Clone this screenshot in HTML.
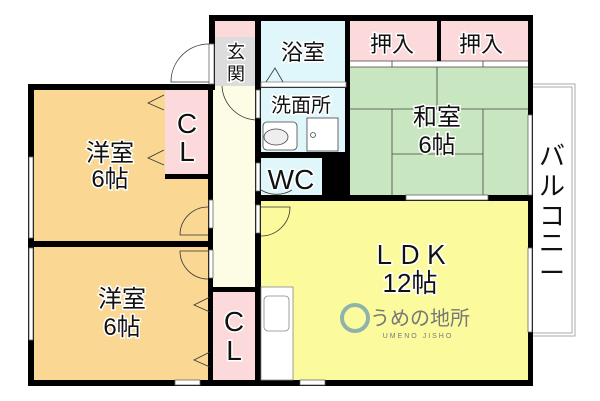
<!DOCTYPE html>
<html><head><meta charset="utf-8"><style>
html,body{margin:0;padding:0;background:#fff;}
svg{display:block;}
text{font-family:"Liberation Sans","Noto Sans CJK JP",sans-serif;fill:#111;stroke:#fff;stroke-width:3px;paint-order:stroke;}
</style></head><body>
<svg width="600" height="401" viewBox="0 0 600 401" xmlns="http://www.w3.org/2000/svg">
<rect x="530" y="84" width="45" height="252" fill="#fff" stroke="#aaa" stroke-width="1"/>
<rect x="532" y="87" width="40" height="246" fill="none" stroke="#aaa" stroke-width="1"/>
<rect x="34" y="89" width="176" height="153" fill="#fad894"/>
<rect x="34" y="246" width="178" height="134" fill="#fad894"/>
<rect x="165" y="89" width="44" height="86" fill="#fcd9da"/>
<rect x="213" y="21" width="43" height="16" fill="#fcd9da"/>
<rect x="215" y="37" width="41" height="49" fill="#dcdcdc"/>
<rect x="213" y="86" width="43" height="204" fill="#fdfde6"/>
<rect x="213" y="290" width="43" height="90" fill="#fcd9da"/>
<rect x="261" y="21" width="84" height="62" fill="#dff6fb"/>
<rect x="261" y="88" width="84" height="64" fill="#dff6fb"/>
<rect x="261" y="158" width="61" height="37" fill="#dff6fb"/>
<rect x="350" y="21" width="178" height="40" fill="#fcd9da"/>
<rect x="350" y="61" width="178" height="6" fill="#fff"/>
<rect x="350" y="67" width="178" height="129" fill="#c8e6c0"/>
<rect x="261" y="201" width="267" height="180" fill="#fbfb9e"/>
<g stroke="#444" stroke-width="0.8" fill="none">
<line x1="350" y1="109" x2="528" y2="109"/>
<line x1="437" y1="67" x2="437" y2="109"/>
<line x1="392" y1="109" x2="392" y2="196"/>
<line x1="483" y1="109" x2="483" y2="196"/>
<line x1="392" y1="154" x2="483" y2="154"/>
<line x1="350" y1="61" x2="528" y2="61"/><line x1="350" y1="67" x2="528" y2="67"/>
<line x1="392" y1="61" x2="392" y2="67"/><line x1="483" y1="61" x2="483" y2="67"/>
</g>
<g fill="#000">
<rect x="209" y="15" width="323" height="6"/>
<rect x="209" y="15" width="6" height="72"/>
<rect x="28" y="84" width="187" height="6"/>
<rect x="28" y="84" width="6" height="302"/>
<rect x="28" y="380" width="504" height="6"/>
<rect x="30" y="241" width="180" height="6"/>
<rect x="208" y="88" width="5" height="298"/>
<rect x="165" y="174" width="45" height="5"/>
<rect x="255" y="15" width="6" height="371"/>
<rect x="345" y="15" width="5" height="185"/>
<rect x="322" y="152" width="28" height="48"/>
<rect x="255" y="152" width="95" height="6"/>
<rect x="255" y="195" width="277" height="6"/>
<rect x="528" y="15" width="5" height="371"/>
<rect x="437" y="15" width="4" height="46"/>
<rect x="210" y="287" width="48" height="5"/>
<rect x="255" y="83" width="95" height="5"/>
</g>
<g fill="#fff" stroke="#666" stroke-width="0.8">
<rect x="29" y="157" width="4" height="81"/>
<rect x="29" y="248" width="4" height="92"/>
<rect x="528" y="115" width="4" height="80"/>
<rect x="528" y="248" width="4" height="84"/>
<rect x="406" y="195" width="82" height="5"/>
<rect x="175" y="380" width="25" height="5"/>
<rect x="300" y="380" width="25" height="5"/>
<rect x="209" y="200" width="4" height="28"/>
<rect x="209" y="250" width="4" height="28"/>
<rect x="256" y="205" width="4" height="28"/>
<rect x="256" y="163" width="4" height="28"/>
<rect x="256" y="90" width="4" height="28"/>
<rect x="261" y="82" width="85" height="5" fill="#fff" stroke="#888"/>
<rect x="209" y="44" width="5" height="40"/>
</g>
<g fill="none" stroke="#333" stroke-width="0.8">
<path d="M209 44 A38 38 0 0 0 171 82 L209 82"/>
<path d="M222 86 A36 36 0 0 0 256 120"/>
<path d="M208 207 A28 28 0 0 0 180 235 L208 235"/>
<path d="M208 251 L180 251 A28 28 0 0 0 208 279"/>
<path d="M261 207 L290 207 A29 29 0 0 1 261 236"/>
<path d="M261 190 A30 30 0 0 0 292 190"/>
<path d="M164 95 L148 103 L164 110 M164 150 L148 158 L164 165"/>
<path d="M210 297 L194 305 L210 312 M210 352 L194 360 L210 367"/>
<path d="M266 82 L275 68 L283 82"/>
</g>
<rect x="263" y="122" width="34" height="28" rx="4" fill="#fff" stroke="#444" stroke-width="0.8"/>
<ellipse cx="276" cy="137" rx="12" ry="8" fill="#eee" stroke="#444" stroke-width="0.8"/>
<rect x="307" y="118" width="31" height="33" fill="#fff" stroke="#444" stroke-width="0.8"/>
<circle cx="313" cy="135" r="2.5" fill="#fff" stroke="#444" stroke-width="0.8"/>
<rect x="261" y="287" width="32" height="93" fill="#fff" stroke="#888" stroke-width="0.8"/>
<rect x="264" y="296" width="25" height="35" rx="4" fill="#fff" stroke="#888" stroke-width="0.8"/>
<g font-size="24" text-anchor="middle">
<text x="110" y="161">洋室</text><text x="110" y="187">6帖</text>
<text x="122" y="307">洋室</text><text x="122" y="335">6帖</text>
<text x="437" y="125">和室</text><text x="437" y="153">6帖</text>
<text x="410" y="264" font-size="26">ＬＤＫ</text><text x="410" y="292" font-size="26">12帖</text>
<text x="303" y="60" font-size="22">浴室</text>
<text x="392" y="52" font-size="22">押入</text><text x="481" y="52" font-size="22">押入</text>
<text x="301" y="112" font-size="20">洗面所</text>
<text x="291" y="189" font-size="28">WC</text>
<text x="187" y="133" font-size="28">C</text><text x="187" y="161" font-size="28">L</text>
<text x="234" y="331" font-size="28">C</text><text x="234" y="360" font-size="28">L</text>
<text x="236" y="58" font-size="18">玄</text><text x="236" y="80" font-size="18">関</text>
<text x="552" y="165" font-size="26">バ</text><text x="552" y="195" font-size="26">ル</text><text x="552" y="225" font-size="26">コ</text><text x="552" y="252" font-size="26">ニ</text><text x="552" y="282" font-size="26">ー</text>
</g>
<circle cx="355" cy="318" r="13" fill="none" stroke="#8fb3a8" stroke-width="4"/>
<text x="420" y="325" font-size="20" text-anchor="middle" style="fill:#777;stroke:none">うめの地所</text>
<text x="418" y="338" font-size="7" text-anchor="middle" style="fill:#777;stroke:none;letter-spacing:2px">UMENO JISHO</text>
</svg>
</body></html>
